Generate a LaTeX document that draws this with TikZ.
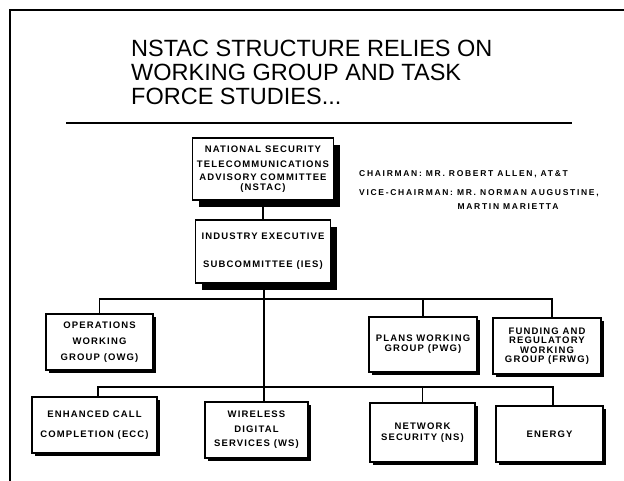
\documentclass[tikz,border=0pt]{standalone}
\usepackage{fontspec}
\setmainfont{Liberation Sans}
\newfontfamily\boxfont[LetterSpace=12]{Liberation Sans}
\newfontfamily\notefont[LetterSpace=20]{Liberation Sans}
\usetikzlibrary{shadows}
\begin{document}
\begin{tikzpicture}[x=1pt,y=-1pt,
  frameline/.style={line width=1.8pt},
  link/.style={line width=1.5pt},
  orgbox/.style={draw, line width=1.5pt, fill=white, inner sep=0pt, align=center,
    font=\boxfont\bfseries\fontsize{9.5}{10}\selectfont},
  thinshadow/.style={general shadow={fill=black, shadow xshift=2.5pt, shadow yshift=-2.5pt}},
  heavyshadow/.style={general shadow={fill=black, shadow xshift=6pt, shadow yshift=-7pt}},
  titletext/.style={anchor=base west, inner sep=0pt, font=\fontsize{23.5}{24}\selectfont},
  notetext/.style={anchor=base west, inner sep=0pt, font=\notefont\bfseries\fontsize{8.5}{10}\selectfont}]
\useasboundingbox (0,0) rectangle (624,481);

% page frame and title rule
\draw[frameline] (10,481) -- (10,10) -- (624,10);
\draw[frameline] (66,123) -- (572,123);

% title
\node[titletext] (t1) at (131,57) {NSTAC STRUCTURE RELIES ON};
\node[titletext] (t2) at (131,81) {WORKING GROUP AND TASK};
\node[titletext] (t3) at (131,105) {FORCE STUDIES...};

% chair notes
\node[notetext] (chair) at (359,177) {CHAIRMAN: MR. ROBERT ALLEN, AT\&T};
\node[notetext] (vice) at (359,196) {VICE-CHAIRMAN: MR. NORMAN AUGUSTINE,};
\node[notetext, anchor=base] (vice2) at (508,210) {MARTIN MARIETTA};

% committee boxes
\node[orgbox, heavyshadow, minimum width=141pt, minimum height=62pt] (nstac) at (263,169)
  {NATIONAL SECURITY\\[5pt]TELECOMMUNICATIONS\\[3pt]ADVISORY COMMITTEE\\(NSTAC)};
\node[orgbox, heavyshadow, minimum width=135pt, minimum height=63pt] (ies) at (263,251.5)
  {INDUSTRY EXECUTIVE\\[18pt]SUBCOMMITTEE (IES)};

% working groups
\node[orgbox, thinshadow, minimum width=107pt, minimum height=56pt] (owg) at (99.5,342)
  {OPERATIONS\\[6pt]WORKING\\[6pt]GROUP (OWG)};
\node[orgbox, thinshadow, minimum width=108pt, minimum height=55pt] (pwg) at (423,344.5)
  {PLANS WORKING\\GROUP (PWG)};
\node[orgbox, thinshadow, minimum width=108pt, minimum height=56pt] (frwg) at (547,346)
  {FUNDING AND\\[-0.5pt]REGULATORY\\[-0.5pt]WORKING\\[-0.5pt]GROUP (FRWG)};

% task forces
\node[orgbox, thinshadow, minimum width=125pt, minimum height=56pt] (ecc) at (94.5,425)
  {ENHANCED CALL\\[10pt]COMPLETION (ECC)};
\node[orgbox, thinshadow, minimum width=103pt, minimum height=56pt] (ws) at (256.5,430)
  {WIRELESS\\[4.5pt]DIGITAL\\[4.5pt]SERVICES (WS)};
\node[orgbox, thinshadow, minimum width=105pt, minimum height=59pt] (ns) at (422.5,432.5)
  {NETWORK\\[1pt]SECURITY (NS)};
\node[orgbox, thinshadow, minimum width=107pt, minimum height=56pt] (energy) at (549.5,434)
  {ENERGY};

% bus points
\coordinate (b1) at (264,299);
\coordinate (b1r) at (552,299);
\coordinate (b2) at (264,387);
\coordinate (b2l) at (98,387);
\coordinate (b2r) at (553,387);

% connectors
\draw[link] (nstac) -- (ies);
\draw[link] (b1 |- ies.south) -- (b1 |- ws.north);
\draw[link] (owg.north) |- (b1r) -- (b1r |- frwg.north);
\draw[link] (pwg.north) -- (pwg.north |- b1);
\draw[link] (b2l |- ecc.north) -- (b2l) -- (b2r) -- (b2r |- energy.north);
\draw[link] (ns.north) -- (ns.north |- b2);
\end{tikzpicture}
\end{document}
